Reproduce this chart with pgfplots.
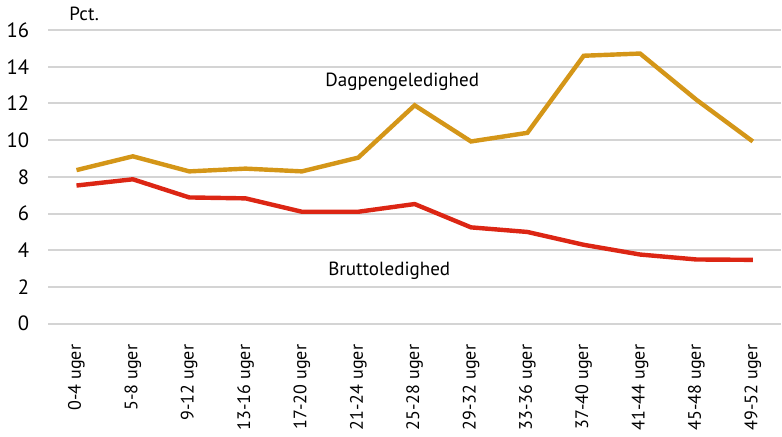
\documentclass[border=0pt]{standalone}
\usepackage{fontspec}
\setmainfont{PT Sans}
\usepackage{pgfplots}
\pgfplotsset{compat=1.18}
\definecolor{dagcol}{RGB}{212,150,24}
\definecolor{brucol}{RGB}{220,38,20}
\definecolor{gridcol}{RGB}{212,212,212}
\begin{document}
\begin{tikzpicture}
\begin{axis}[
  width=365.5pt, height=146.5pt, scale only axis,
  xmin=-0.5, xmax=12.5, ymin=0, ymax=16,
  axis line style={draw=none},
  tick style={draw=none},
  xtick={0,...,12},
  xticklabels={0-4 uger,5-8 uger,9-12 uger,13-16 uger,17-20 uger,21-24 uger,25-28 uger,29-32 uger,33-36 uger,37-40 uger,41-44 uger,45-48 uger,49-52 uger},
  x tick label style={rotate=90, anchor=east, font=\fontsize{9}{10}\selectfont},
  xticklabel shift=7pt,
  ytick={0,2,...,16},
  yticklabel style={font=\fontsize{10.3}{11}\selectfont, /pgf/number format/assume math mode=true},
  yticklabel shift=6pt,
  major tick length=0pt,
  ymajorgrids=true,
  grid style={gridcol, line width=1pt},
  clip=false,
]
\addplot[dagcol, line width=2.2pt] coordinates {
  (0,8.37) (1,9.12) (2,8.3) (3,8.45) (4,8.3) (5,9.05) (6,11.9)
  (7,9.93) (8,10.4) (9,14.6) (10,14.72) (11,12.2) (12,9.93)
};
\addplot[brucol, line width=2.2pt] coordinates {
  (0,7.53) (1,7.87) (2,6.88) (3,6.83) (4,6.1) (5,6.1) (6,6.52)
  (7,5.25) (8,5.0) (9,4.3) (10,3.77) (11,3.5) (12,3.48)
};
\node[font=\fontsize{9.5}{11}\selectfont] at (axis cs:5.78,13.17) {Dagpengeledighed};
\node[font=\fontsize{9.5}{11}\selectfont] at (axis cs:5.55,2.9) {Bruttoledighed};
\node[font=\fontsize{9.5}{11}\selectfont, anchor=west] at (axis cs:-0.25,16.9) {Pct.};
\end{axis}
\end{tikzpicture}
\end{document}
